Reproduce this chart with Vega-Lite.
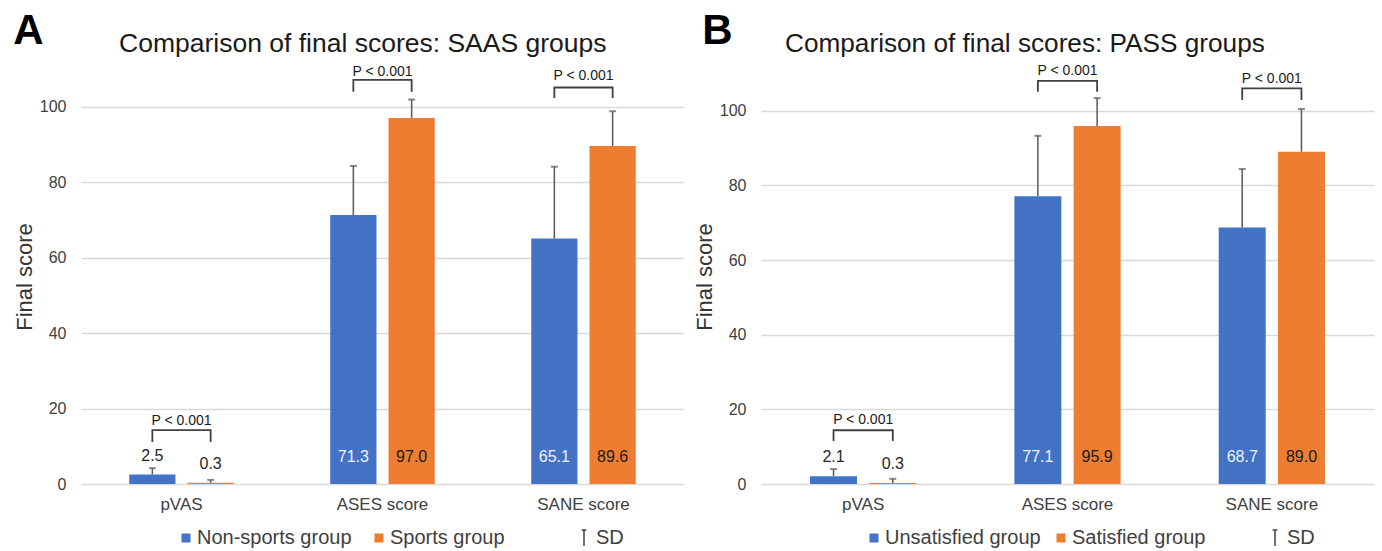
{
  "$schema": "https://vega.github.io/schema/vega-lite/v6.json",
  "background": "white",
  "padding": {"left": 13, "top": 9, "right": 4, "bottom": 0},
  "config": {
    "font": "Liberation Sans",
    "view": {"stroke": null},
    "title": {"font": "Liberation Sans", "color": "#1a1a1a", "fontWeight": "normal"},
    "axis": {"labelFont": "Liberation Sans", "titleFont": "Liberation Sans"},
    "legend": {"labelFont": "Liberation Sans"}
  },
  "datasets": {
    "barsA": [
      {"measure": "pVAS", "group": "Non-sports group", "value": 2.5, "upper": 4.2},
      {"measure": "pVAS", "group": "Sports group", "value": 0.3, "upper": 1.1},
      {"measure": "ASES score", "group": "Non-sports group", "value": 71.3, "upper": 84.3},
      {"measure": "ASES score", "group": "Sports group", "value": 97.0, "upper": 101.9},
      {"measure": "SANE score", "group": "Non-sports group", "value": 65.1, "upper": 84.1},
      {"measure": "SANE score", "group": "Sports group", "value": 89.6, "upper": 98.8}
    ],
    "bracketsA": [
      {"measure": "pVAS", "group": "Non-sports group", "y": 11.1, "k": 1},
      {"measure": "pVAS", "group": "Non-sports group", "y": 14.3, "k": 2},
      {"measure": "pVAS", "group": "Sports group", "y": 14.3, "k": 3},
      {"measure": "pVAS", "group": "Sports group", "y": 11.1, "k": 4},
      {"measure": "ASES score", "group": "Non-sports group", "y": 104.0, "k": 1},
      {"measure": "ASES score", "group": "Non-sports group", "y": 107.1, "k": 2},
      {"measure": "ASES score", "group": "Sports group", "y": 107.1, "k": 3},
      {"measure": "ASES score", "group": "Sports group", "y": 104.0, "k": 4},
      {"measure": "SANE score", "group": "Non-sports group", "y": 102.3, "k": 1},
      {"measure": "SANE score", "group": "Non-sports group", "y": 105.1, "k": 2},
      {"measure": "SANE score", "group": "Sports group", "y": 105.1, "k": 3},
      {"measure": "SANE score", "group": "Sports group", "y": 102.3, "k": 4}
    ],
    "pA": [
      {"measure": "pVAS", "y": 16.7, "label": "P < 0.001"},
      {"measure": "ASES score", "y": 109.3, "label": "P < 0.001"},
      {"measure": "SANE score", "y": 108.2, "label": "P < 0.001"}
    ],
    "barsB": [
      {"measure": "pVAS", "group": "Unsatisfied group", "value": 2.1, "upper": 4.0},
      {"measure": "pVAS", "group": "Satisfied group", "value": 0.3, "upper": 1.4},
      {"measure": "ASES score", "group": "Unsatisfied group", "value": 77.1, "upper": 93.3},
      {"measure": "ASES score", "group": "Satisfied group", "value": 95.9, "upper": 103.4},
      {"measure": "SANE score", "group": "Unsatisfied group", "value": 68.7, "upper": 84.4},
      {"measure": "SANE score", "group": "Satisfied group", "value": 89.0, "upper": 100.5}
    ],
    "bracketsB": [
      {"measure": "pVAS", "group": "Unsatisfied group", "y": 11.5, "k": 1},
      {"measure": "pVAS", "group": "Unsatisfied group", "y": 14.4, "k": 2},
      {"measure": "pVAS", "group": "Satisfied group", "y": 14.4, "k": 3},
      {"measure": "pVAS", "group": "Satisfied group", "y": 11.5, "k": 4},
      {"measure": "ASES score", "group": "Unsatisfied group", "y": 105.1, "k": 1},
      {"measure": "ASES score", "group": "Unsatisfied group", "y": 108.0, "k": 2},
      {"measure": "ASES score", "group": "Satisfied group", "y": 108.0, "k": 3},
      {"measure": "ASES score", "group": "Satisfied group", "y": 105.1, "k": 4},
      {"measure": "SANE score", "group": "Unsatisfied group", "y": 102.9, "k": 1},
      {"measure": "SANE score", "group": "Unsatisfied group", "y": 106.0, "k": 2},
      {"measure": "SANE score", "group": "Satisfied group", "y": 106.0, "k": 3},
      {"measure": "SANE score", "group": "Satisfied group", "y": 102.9, "k": 4}
    ],
    "pB": [
      {"measure": "pVAS", "y": 17.2, "label": "P < 0.001"},
      {"measure": "ASES score", "y": 110.7, "label": "P < 0.001"},
      {"measure": "SANE score", "y": 108.5, "label": "P < 0.001"}
    ]
  },
  "resolve": {
    "scale": {"x": "independent", "y": "independent", "xOffset": "independent", "color": "independent", "strokeDash": "independent"},
    "legend": {"color": "independent", "strokeDash": "independent"}
  },
  "spacing": 9,
  "hconcat": [
    {
      "title": {"text": "A", "anchor": "start", "frame": "bounds", "fontSize": 42, "fontWeight": "bold", "color": "#000000", "offset": -22},
      "vconcat": [
        {
          "title": {"text": "Comparison of final scores: SAAS groups", "anchor": "start", "frame": "group", "dx": 38, "fontSize": 26.5, "offset": 7},
          "width": 603,
          "height": 415,
          "encoding": {
            "x": {"field": "measure", "type": "nominal", "sort": ["pVAS", "ASES score", "SANE score"],
                  "scale": {"paddingInner": 0.48, "paddingOuter": 0.24},
                  "axis": {"title": null, "labelAngle": 0, "labelFontSize": 17, "labelColor": "#404040", "ticks": false, "domain": false, "labelPadding": 12}}
          },
          "layer": [
            {
              "data": {"name": "barsA"},
              "mark": {"type": "bar"},
              "encoding": {
                "xOffset": {"field": "group", "type": "nominal", "sort": ["Non-sports group", "Sports group"], "scale": {"paddingInner": 0.207, "paddingOuter": 0}},
                "y": {"field": "value", "type": "quantitative", "scale": {"domain": [0, 110], "nice": false},
                      "axis": {"values": [0, 20, 40, 60, 80, 100], "title": "Final score", "titleFontSize": 22, "titleFontWeight": "normal", "titleColor": "#333333", "titlePadding": 3, "labelFontSize": 16, "labelColor": "#404040", "labelPadding": 15, "grid": true, "gridColor": "#d9d9d9", "gridWidth": 1.3, "domain": false, "ticks": false}},
                "color": {"field": "group", "type": "nominal", "scale": {"domain": ["Non-sports group", "Sports group"], "range": ["#4472C4", "#ED7D31"]},
                          "legend": {"orient": "none", "legendX": 95, "legendY": 459, "direction": "horizontal", "title": null, "symbolType": "square", "symbolSize": 81, "labelFontSize": 20, "labelColor": "#404040", "columnPadding": 17, "labelOffset": 1, "symbolStrokeWidth": 0}}
              }
            },
            {
              "data": {"name": "barsA"},
              "mark": {"type": "rule", "color": "#595959", "strokeWidth": 1.5},
              "encoding": {
                "xOffset": {"field": "group", "type": "nominal", "sort": ["Non-sports group", "Sports group"]},
                "y": {"field": "value", "type": "quantitative"},
                "y2": {"field": "upper"},
                "strokeDash": {"datum": "SD", "type": "nominal", "scale": {"domain": ["SD"], "range": [[1, 0]]},
                               "legend": {"orient": "none", "legendX": 493, "legendY": 459, "title": null, "symbolType": "M-0.3,-1H0.3M0,-1V1", "symbolSize": 256, "symbolStrokeColor": "#404040", "symbolFillColor": "transparent", "symbolStrokeWidth": 1.5, "labelFontSize": 20, "labelColor": "#404040", "labelOffset": 2}}
              }
            },
            {
              "data": {"name": "barsA"},
              "mark": {"type": "tick", "orient": "horizontal", "size": 7, "thickness": 2, "color": "#595959"},
              "encoding": {
                "xOffset": {"field": "group", "type": "nominal", "sort": ["Non-sports group", "Sports group"]},
                "y": {"field": "upper", "type": "quantitative"}
              }
            },
            {
              "data": {"name": "barsA"},
              "transform": [{"filter": "datum.measure === 'pVAS'"}],
              "mark": {"type": "text", "fontSize": 16, "baseline": "middle", "dy": -19, "color": "#262626"},
              "encoding": {
                "xOffset": {"field": "group", "type": "nominal", "sort": ["Non-sports group", "Sports group"]},
                "y": {"field": "value", "type": "quantitative"},
                "text": {"field": "value", "type": "quantitative", "format": ".1f"}
              }
            },
            {
              "data": {"name": "barsA"},
              "transform": [{"filter": "datum.measure !== 'pVAS'"}],
              "mark": {"type": "text", "fontSize": 16, "baseline": "middle"},
              "encoding": {
                "xOffset": {"field": "group", "type": "nominal", "sort": ["Non-sports group", "Sports group"]},
                "y": {"datum": 7.2},
                "text": {"field": "value", "type": "quantitative", "format": ".1f"},
                "color": {"condition": {"test": "datum.group === 'Sports group'", "value": "#1a1a1a"}, "value": "#eef2fa"}
              }
            },
            {
              "data": {"name": "bracketsA"},
              "mark": {"type": "line", "color": "#404040", "strokeWidth": 1.8},
              "encoding": {
                "xOffset": {"field": "group", "type": "nominal", "sort": ["Non-sports group", "Sports group"]},
                "y": {"field": "y", "type": "quantitative"},
                "detail": {"field": "measure"},
                "order": {"field": "k"}
              }
            },
            {
              "data": {"name": "pA"},
              "mark": {"type": "text", "fontSize": 14, "baseline": "middle", "color": "#1a1a1a"},
              "encoding": {"y": {"field": "y", "type": "quantitative"}, "text": {"field": "label"}}
            }
          ]
        }
      ]
    },
    {
      "title": {"text": "B", "anchor": "start", "frame": "bounds", "fontSize": 42, "fontWeight": "bold", "color": "#000000", "offset": -22, "dx": 9},
      "vconcat": [
        {
          "title": {"text": "Comparison of final scores: PASS groups", "anchor": "start", "frame": "group", "dx": 24, "fontSize": 26.2, "offset": 7},
          "width": 613,
          "height": 415,
          "encoding": {
            "x": {"field": "measure", "type": "nominal", "sort": ["pVAS", "ASES score", "SANE score"],
                  "scale": {"paddingInner": 0.48, "paddingOuter": 0.24},
                  "axis": {"title": null, "labelAngle": 0, "labelFontSize": 17, "labelColor": "#404040", "ticks": false, "domain": false, "labelPadding": 12}}
          },
          "layer": [
            {
              "data": {"name": "barsB"},
              "mark": {"type": "bar"},
              "encoding": {
                "xOffset": {"field": "group", "type": "nominal", "sort": ["Unsatisfied group", "Satisfied group"], "scale": {"paddingInner": 0.207, "paddingOuter": 0}},
                "y": {"field": "value", "type": "quantitative", "scale": {"domain": [0, 111.2], "nice": false},
                      "axis": {"values": [0, 20, 40, 60, 80, 100], "title": "Final score", "titleFontSize": 22, "titleFontWeight": "normal", "titleColor": "#333333", "titlePadding": 3, "labelFontSize": 16, "labelColor": "#404040", "labelPadding": 15, "grid": true, "gridColor": "#d9d9d9", "gridWidth": 1.3, "domain": false, "ticks": false}},
                "color": {"field": "group", "type": "nominal", "scale": {"domain": ["Unsatisfied group", "Satisfied group"], "range": ["#4472C4", "#ED7D31"]},
                          "legend": {"orient": "none", "legendX": 103, "legendY": 459, "direction": "horizontal", "title": null, "symbolType": "square", "symbolSize": 81, "labelFontSize": 20, "labelColor": "#404040", "columnPadding": 10, "labelOffset": 1, "symbolStrokeWidth": 0}}
              }
            },
            {
              "data": {"name": "barsB"},
              "mark": {"type": "rule", "color": "#595959", "strokeWidth": 1.5},
              "encoding": {
                "xOffset": {"field": "group", "type": "nominal", "sort": ["Unsatisfied group", "Satisfied group"]},
                "y": {"field": "value", "type": "quantitative"},
                "y2": {"field": "upper"},
                "strokeDash": {"datum": "SD", "type": "nominal", "scale": {"domain": ["SD"], "range": [[1, 0]]},
                               "legend": {"orient": "none", "legendX": 504, "legendY": 459, "title": null, "symbolType": "M-0.3,-1H0.3M0,-1V1", "symbolSize": 256, "symbolStrokeColor": "#404040", "symbolFillColor": "transparent", "symbolStrokeWidth": 1.5, "labelFontSize": 20, "labelColor": "#404040", "labelOffset": 2}}
              }
            },
            {
              "data": {"name": "barsB"},
              "mark": {"type": "tick", "orient": "horizontal", "size": 7, "thickness": 2, "color": "#595959"},
              "encoding": {
                "xOffset": {"field": "group", "type": "nominal", "sort": ["Unsatisfied group", "Satisfied group"]},
                "y": {"field": "upper", "type": "quantitative"}
              }
            },
            {
              "data": {"name": "barsB"},
              "transform": [{"filter": "datum.measure === 'pVAS'"}],
              "mark": {"type": "text", "fontSize": 16, "baseline": "middle", "dy": -19, "color": "#262626"},
              "encoding": {
                "xOffset": {"field": "group", "type": "nominal", "sort": ["Unsatisfied group", "Satisfied group"]},
                "y": {"field": "value", "type": "quantitative"},
                "text": {"field": "value", "type": "quantitative", "format": ".1f"}
              }
            },
            {
              "data": {"name": "barsB"},
              "transform": [{"filter": "datum.measure !== 'pVAS'"}],
              "mark": {"type": "text", "fontSize": 16, "baseline": "middle"},
              "encoding": {
                "xOffset": {"field": "group", "type": "nominal", "sort": ["Unsatisfied group", "Satisfied group"]},
                "y": {"datum": 7.2},
                "text": {"field": "value", "type": "quantitative", "format": ".1f"},
                "color": {"condition": {"test": "datum.group === 'Satisfied group'", "value": "#1a1a1a"}, "value": "#eef2fa"}
              }
            },
            {
              "data": {"name": "bracketsB"},
              "mark": {"type": "line", "color": "#404040", "strokeWidth": 1.8},
              "encoding": {
                "xOffset": {"field": "group", "type": "nominal", "sort": ["Unsatisfied group", "Satisfied group"]},
                "y": {"field": "y", "type": "quantitative"},
                "detail": {"field": "measure"},
                "order": {"field": "k"}
              }
            },
            {
              "data": {"name": "pB"},
              "mark": {"type": "text", "fontSize": 14, "baseline": "middle", "color": "#1a1a1a"},
              "encoding": {"y": {"field": "y", "type": "quantitative"}, "text": {"field": "label"}}
            }
          ]
        }
      ]
    }
  ]
}
